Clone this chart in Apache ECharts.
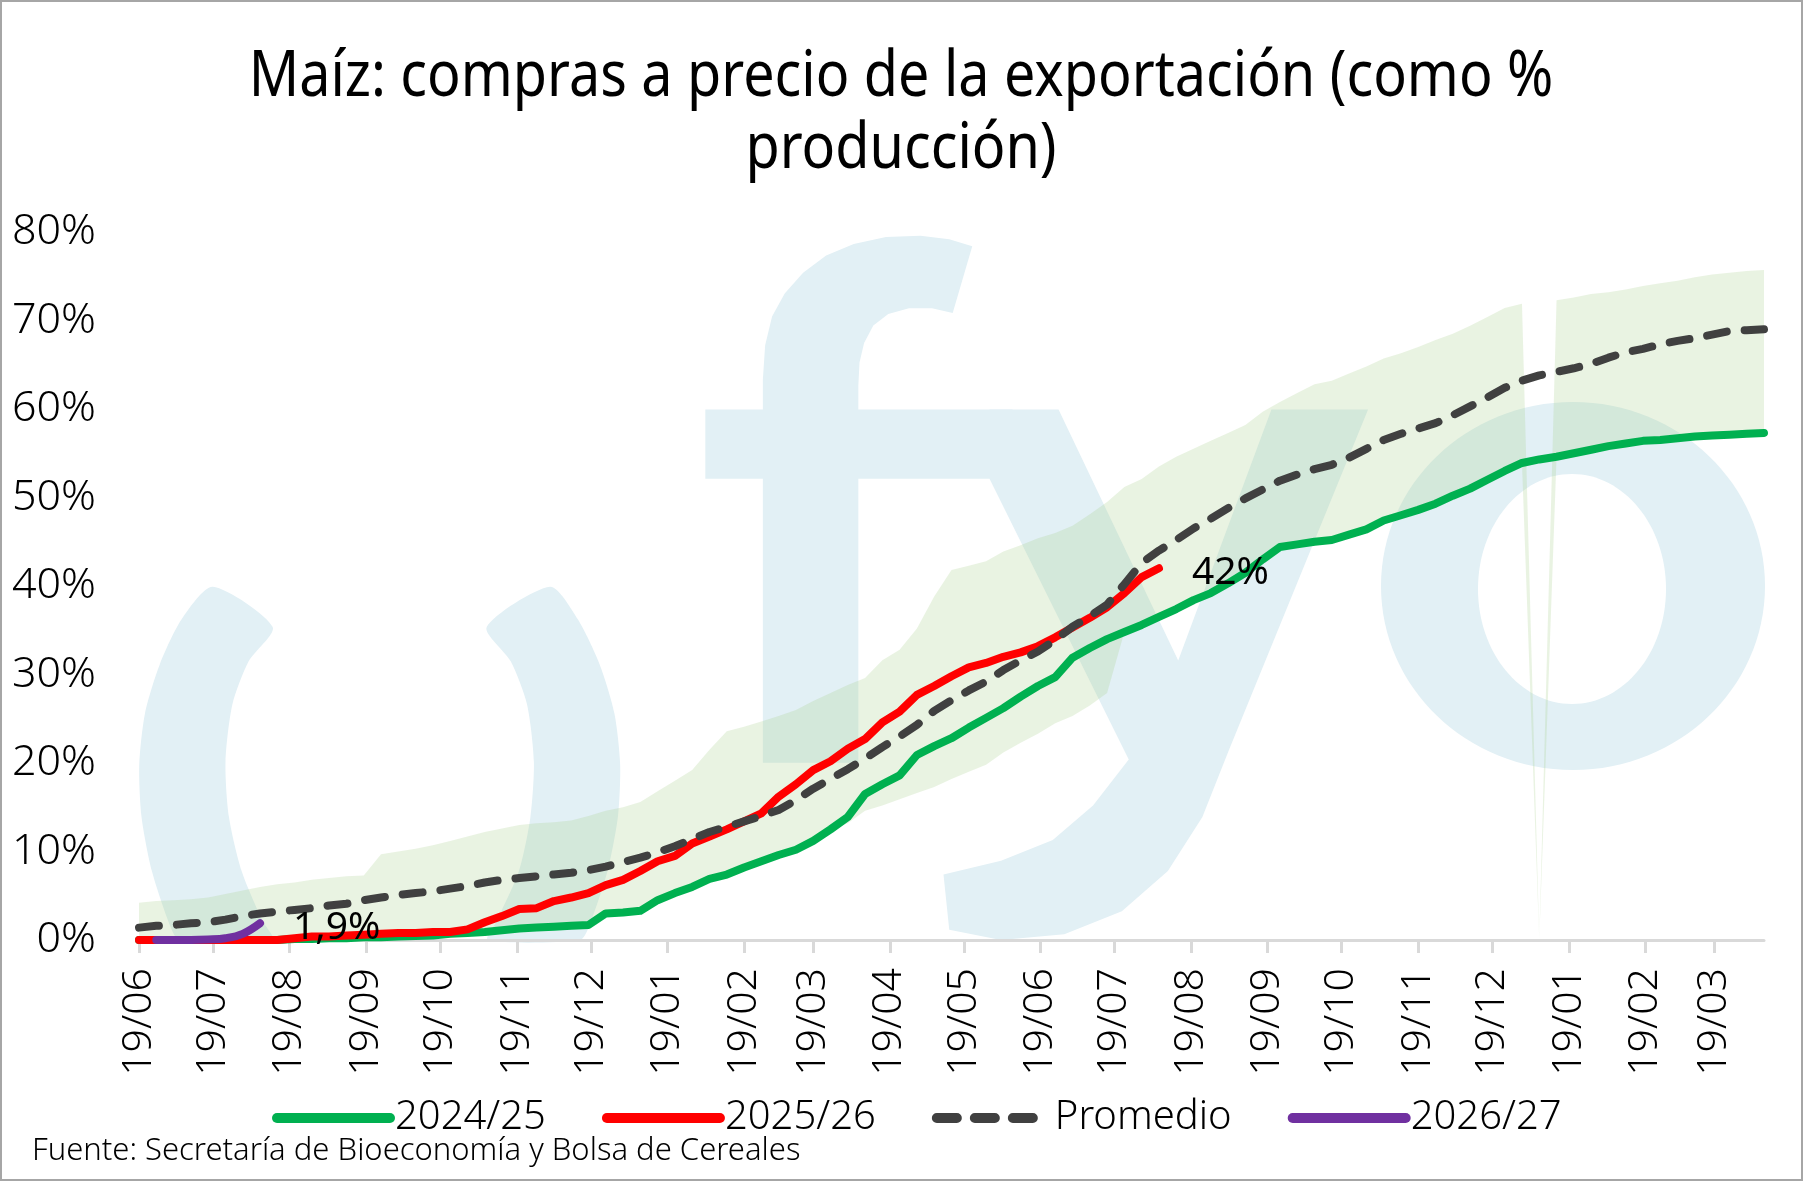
<!DOCTYPE html>
<html><head><meta charset="utf-8">
<script src="https://cdn.jsdelivr.net/npm/echarts@6/dist/echarts.min.js"></script>
<style>html,body{margin:0;padding:0;background:#fff}#c{width:1803px;height:1181px}</style>
</head><body><div id="c"></div>
<script>
// ---------- DATA ----------
const dates = ['2025-06-19','2025-06-26','2025-07-03','2025-07-10','2025-07-17','2025-07-24','2025-07-31','2025-08-07','2025-08-14','2025-08-21','2025-08-28','2025-09-04','2025-09-11','2025-09-18','2025-09-25','2025-10-02','2025-10-09','2025-10-16','2025-10-23','2025-10-30','2025-11-06','2025-11-13','2025-11-20','2025-11-27','2025-12-04','2025-12-11','2025-12-18','2025-12-25','2026-01-01','2026-01-08','2026-01-15','2026-01-22','2026-01-29','2026-02-05','2026-02-12','2026-02-19','2026-02-26','2026-03-05','2026-03-12','2026-03-19','2026-03-26','2026-04-02','2026-04-09','2026-04-16','2026-04-23','2026-04-30','2026-05-07','2026-05-14','2026-05-21','2026-05-28','2026-06-04','2026-06-11','2026-06-18','2026-06-25','2026-07-02','2026-07-09','2026-07-16','2026-07-23','2026-07-30','2026-08-06','2026-08-13','2026-08-20','2026-08-27','2026-09-03','2026-09-10','2026-09-17','2026-09-24','2026-10-01','2026-10-08','2026-10-15','2026-10-22','2026-10-29','2026-11-05','2026-11-12','2026-11-19','2026-11-26','2026-12-03','2026-12-10','2026-12-17','2026-12-24','2026-12-31','2027-01-07','2027-01-14','2027-01-21','2027-01-28','2027-02-04','2027-02-11','2027-02-18','2027-02-25','2027-03-04','2027-03-11','2027-03-18','2027-03-25','2027-04-01','2027-04-08'];

const tickDates = ['2025-06-19','2025-07-19','2025-08-19','2025-09-19','2025-10-19','2025-11-19','2025-12-19','2026-01-19','2026-02-19','2026-03-19','2026-04-19','2026-05-19','2026-06-19','2026-07-19','2026-08-19','2026-09-19','2026-10-19','2026-11-19','2026-12-19','2027-01-19','2027-02-19','2027-03-19'];

const s2024_25 = [0,0,0,0,0,0,0,0,0,0.1,0.1,0.2,0.2,0.3,0.3,0.4,0.45,0.5,0.7,0.8,0.9,1.1,1.3,1.4,1.5,1.6,1.7,3.0,3.1,3.3,4.5,5.3,6.0,6.9,7.4,8.2,8.9,9.6,10.2,11.2,12.5,13.9,16.5,17.6,18.6,20.9,21.9,22.8,24.0,25.1,26.2,27.5,28.7,29.7,31.9,33.0,34.0,34.8,35.6,36.5,37.4,38.4,39.2,40.3,41.5,43.0,44.4,44.7,45.0,45.2,45.8,46.4,47.4,48.0,48.6,49.3,50.2,51.0,52.0,53.0,53.9,54.3,54.6,55.0,55.4,55.8,56.1,56.4,56.5,56.7,56.9,57.0,57.1,57.2,57.3];

const s2025_26 = [0,0,0,0,0,0,0,0,0,0.2,0.4,0.4,0.5,0.6,0.7,0.8,0.8,0.9,0.9,1.2,2.0,2.7,3.5,3.6,4.4,4.8,5.3,6.2,6.8,7.8,8.9,9.5,10.9,11.7,12.5,13.4,14.3,16.2,17.6,19.2,20.2,21.6,22.7,24.6,25.8,27.7,28.7,29.8,30.8,31.3,32.0,32.5,33.2,34.2,35.3,36.4,37.6,39.2,41.0,42.0];

const promedio = [1.4,1.6,1.7,1.9,2.0,2.3,2.7,3.0,3.2,3.4,3.6,3.9,4.1,4.5,4.8,5.1,5.3,5.5,5.8,6.1,6.5,6.8,7.0,7.2,7.4,7.6,7.9,8.3,8.8,9.3,9.9,10.6,11.4,12.2,12.8,13.4,14.0,14.7,15.8,17.1,18.2,19.3,20.5,21.8,23.0,24.3,25.9,27.1,28.2,29.2,30.5,31.6,32.6,33.9,35.4,36.6,37.9,40.2,42.6,44.0,45.2,46.5,47.6,48.8,49.9,50.9,51.9,52.6,53.2,53.7,54.5,55.5,56.5,57.2,57.8,58.4,59.3,60.3,61.3,62.4,63.2,63.8,64.2,64.6,65.1,65.8,66.4,66.8,67.3,67.7,68.0,68.4,68.8,68.9,69.0];

const s2026_27 = [null,0,0,0,0.05,0.2,0.7,1.9];

const bandLow = [0,0,0,0,0,0,0,0,0,0.1,0.1,0.2,0.2,0.3,0.3,0.4,0.45,0.5,0.7,0.8,0.9,1.1,1.3,1.4,1.5,1.6,1.7,3.0,3.1,3.3,4.5,5.3,6.0,6.9,7.4,8.2,8.9,9.6,10.2,11.2,12.5,13.2,14.6,15.2,15.9,16.6,17.3,18.2,19.0,19.8,21.2,22.3,23.3,24.5,25.3,26.5,27.9,34.8,35.6,36.5,37.4,38.4,39.2,40.3,41.5,43.0,44.4,44.7,45.0,45.2,45.8,46.4,47.4,48.0,48.6,49.3,50.2,51.0,52.0,53.0,53.9,0,54.6,55.0,55.4,55.8,56.1,56.4,56.5,56.7,56.9,57.0,57.1,57.2,57.3];

const bandHigh = [4.2,4.4,4.5,4.6,4.8,5.2,5.6,6.0,6.3,6.5,6.8,7.0,7.2,7.3,9.7,10.0,10.3,10.7,11.2,11.7,12.2,12.6,13.0,13.2,13.3,13.5,14.0,14.6,15.0,15.6,16.8,18.0,19.2,21.5,23.6,24.1,24.7,25.3,26.0,27.0,27.9,28.8,29.6,31.6,32.8,35.2,38.8,41.8,42.3,42.8,43.9,44.6,45.4,46.0,46.8,48.1,49.5,51.2,52.1,53.5,54.6,55.5,56.4,57.3,58.2,59.7,60.8,61.8,62.8,63.2,64.0,64.8,65.7,66.3,67.0,67.8,68.5,69.4,70.4,71.4,71.9,0,72.3,72.6,73.0,73.2,73.5,73.9,74.2,74.5,74.9,75.2,75.4,75.6,75.7];

const seriesNames = ['2024/25','2025/26','Promedio','2026/27'];
const titleText = 'Maíz: compras a precio de la exportación (como %\nproducción)';
const sourceText = 'Fuente: Secretaría de Bioeconomía y Bolsa de Cereales';

// ---------- HELPERS ----------
function toTs(s){const a=s.split('-').map(Number);return new Date(a[0],a[1]-1,a[2]).getTime();}
function pairs(arr){const out=[];arr.forEach((v,i)=>{if(v!==null&&v!==undefined)out.push([toTs(dates[i]),v]);});return out;}
function pad(n){return (n<10?'0':'')+n;}
function pct(v){return String(v).replace('.',',')+'%';}
const tickTs = tickDates.map(toTs);

const FONT = "'Noto Sans', 'DejaVu Sans', sans-serif";

// watermark decoration (logo), pixel geometry
const S = 1803/1567;
const P = pts => pts.map(p=>[p[0]*S,p[1]*S]);
const WM = '#e2f0f5';
const leftCres = [[185,510],[158,538],[139,577],[126,620],[121,665],[123,710],[132,757],[148,805],[156,817],[237,817],[228,800],[210,757],[199,710],[196,662],[202,612],[216,575],[237,545]];
const rightCres = [[478,510],[502,538],[521,577],[534,620],[539,665],[537,710],[528,757],[512,805],[504,817],[424,817],[432,800],[451,757],[461,710],[464,662],[458,612],[444,575],[423,545]];
const fStem = [[663,663],[663,330],[665,300],[671,275],[682,255],[698,237],[718,222],[742,212],[770,206],[800,205],[825,208],[845,214],[828,272],[810,268],[790,268],[772,273],[759,283],[751,298],[747,315],[746,335],[746,663]];
const fBar = [[613,356],[880,356],[880,416],[613,416]];
const yShape = [[860,416],[860,356],[920,356],[1024,574],[1105,356],[1189,356],[1068,652],[1045,710],[1015,757],[975,792],[925,812],[870,817],[825,808],[820,760],[870,748],[915,730],[950,700],[981,660]];

const chart = echarts.init(document.getElementById('c'), null, {renderer:'canvas'});
const lineBase = {type:'line', symbol:'none', showSymbol:false, z:3, emphasis:{disabled:true}};
const LW = 8;

chart.setOption({
  animation:false,
  backgroundColor:'#ffffff',
  grid:{left:139, right:39, top:232, bottom:241, containLabel:false},
  legend:{
    data:seriesNames, left:267, top:1093, itemWidth:113, itemHeight:20, itemGap:56,
    textStyle:{fontFamily:FONT, fontSize:40, fontWeight:300, color:'#000'},
    lineStyle:{width:10}, itemStyle:{opacity:0}
  },
  xAxis:{
    type:'value', min:toTs(dates[0]), max:toTs(dates[dates.length-1]),
    axisLine:{show:true, onZero:false, lineStyle:{color:'#d9d9d9', width:3}},
    axisTick:{show:true, customValues:tickTs, length:13, lineStyle:{color:'#d9d9d9', width:3}},
    axisLabel:{customValues:tickTs, rotate:90, margin:28, fontSize:41, fontWeight:300, color:'#000', fontFamily:FONT,
      formatter:function(v){const d=new Date(v);return pad(d.getDate())+'/'+pad(d.getMonth()+1);}},
    splitLine:{show:false}
  },
  yAxis:{
    type:'value', min:0, max:80, interval:10,
    axisLine:{show:false}, axisTick:{show:false}, splitLine:{show:false},
    axisLabel:{formatter:'{value}%', fontSize:43, fontWeight:300, color:'#000', margin:43, fontFamily:FONT}
  },
  graphic:{elements:[
    {type:'polygon', shape:{points:P(leftCres), smooth:0.25}, style:{fill:WM}, z:-10, silent:true},
    {type:'polygon', shape:{points:P(rightCres), smooth:0.25}, style:{fill:WM}, z:-10, silent:true},
    {type:'polygon', shape:{points:P(fStem)}, style:{fill:WM}, z:-10, silent:true},
    {type:'polygon', shape:{points:P(fBar)}, style:{fill:WM}, z:-10, silent:true},
    {type:'polygon', shape:{points:P(yShape)}, style:{fill:WM}, z:-10, silent:true},
    {type:'ellipse', shape:{cx:1573, cy:586, rx:192, ry:184}, style:{fill:WM}, z:-10, silent:true},
    {type:'ellipse', shape:{cx:1572, cy:589, rx:94, ry:115}, style:{fill:'#ffffff'}, z:-9, silent:true},
    {type:'text', x:901, y:114, scaleX:0.87, style:{text:titleText, fontSize:64, lineHeight:72, fontFamily:FONT, fill:'#000', align:'center', verticalAlign:'middle'}, z:5, silent:true},
    {type:'text', x:32, y:1151, style:{text:sourceText, fontSize:31, fontWeight:300, fontFamily:FONT, fill:'#000', verticalAlign:'middle', align:'left'}, z:5, silent:true},
    {type:'rect', shape:{x:1, y:1, width:1801, height:1179}, style:{fill:'none', stroke:'#a6a6a6', lineWidth:2}, z:50, silent:true}
  ]},
  series:[
    {type:'custom', name:'rango', data:[[toTs(dates[0]),0]], z:1, silent:true, clip:true,
      renderItem:function(params, api){
        const pts=[];
        for(let i=0;i<dates.length;i++) pts.push(api.coord([toTs(dates[i]), bandHigh[i]]));
        for(let i=dates.length-1;i>=0;i--) pts.push(api.coord([toTs(dates[i]), bandLow[i]]));
        return {type:'polygon', shape:{points:pts}, style:{fill:'rgba(166,206,138,0.25)'}};
      }},
    Object.assign({}, lineBase, {name:seriesNames[0], data:pairs(s2024_25), lineStyle:{color:'#00b050', width:LW, cap:'round', join:'round'}, itemStyle:{color:'#00b050'}}),
    Object.assign({}, lineBase, {name:seriesNames[1], data:pairs(s2025_26), lineStyle:{color:'#ff0000', width:LW, cap:'round', join:'round'}, itemStyle:{color:'#ff0000'},
      endLabel:{show:true, formatter:p=>pct(p.value[1]), distance:33, offset:[0,5], fontSize:39, color:'#000', fontFamily:FONT}}),
    Object.assign({}, lineBase, {name:seriesNames[2], data:pairs(promedio), z:4, lineStyle:{color:'#404040', width:LW, type:[20,18], cap:'round', join:'round'}, itemStyle:{color:'#404040'}}),
    Object.assign({}, lineBase, {name:seriesNames[3], data:pairs(s2026_27), z:5, smooth:0.4, lineStyle:{color:'#7030a0', width:LW, cap:'round', join:'round'}, itemStyle:{color:'#7030a0'},
      endLabel:{show:true, formatter:p=>pct(p.value[1]), distance:33, offset:[0,5], fontSize:39, color:'#000', fontFamily:FONT}})
  ]
});
</script></body></html>
